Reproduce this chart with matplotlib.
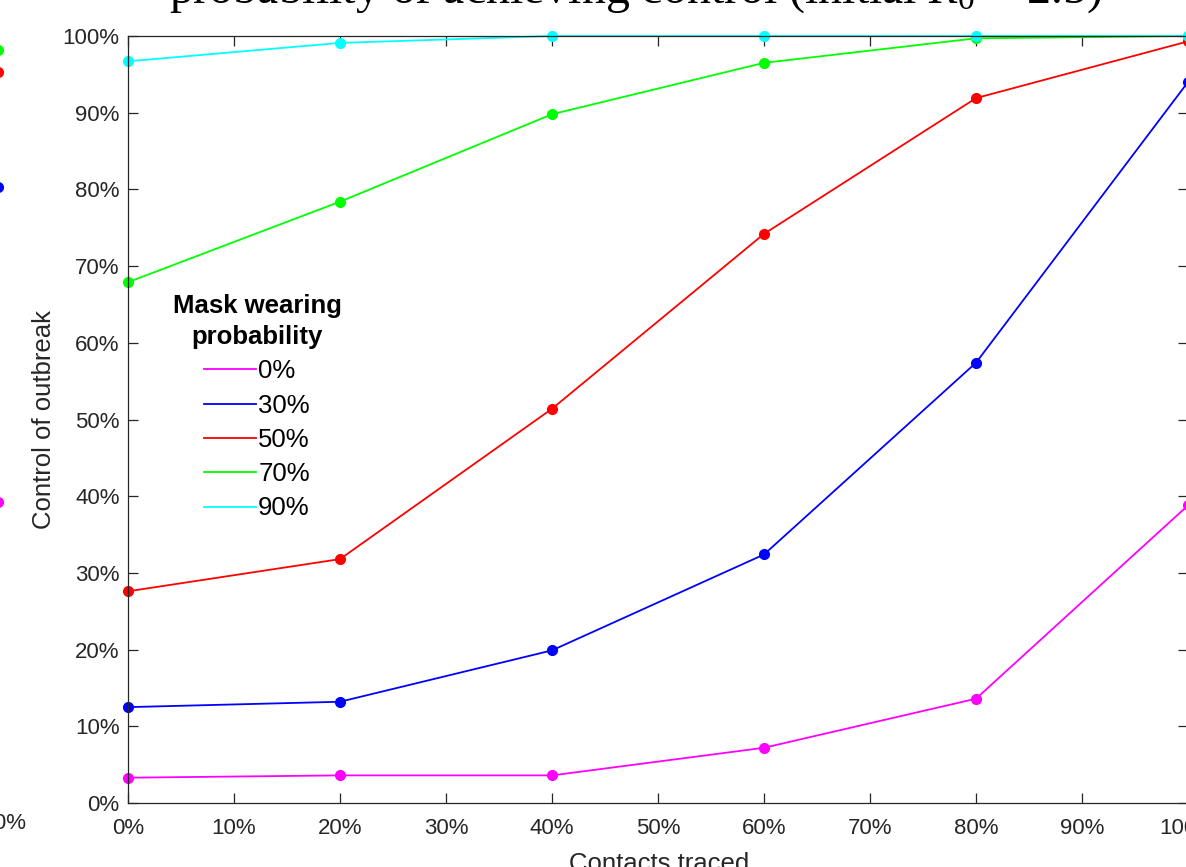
import matplotlib
matplotlib.use("Agg")
import matplotlib.pyplot as plt
from matplotlib.ticker import PercentFormatter

### DATA ###
contacts_traced = [0, 20, 40, 60, 80, 100]
mask_labels = ["0%", "30%", "50%", "70%", "90%"]
mask_colors = ["#ff00ff", "#0000ff", "#ff0000", "#00ff00", "#00ffff"]
control_mask0 = [3.3, 3.6, 3.6, 7.2, 13.6, 38.8]
control_mask30 = [12.5, 13.2, 19.9, 32.4, 57.4, 94.0]
control_mask50 = [27.6, 31.8, 51.4, 74.2, 91.9, 99.3]
control_mask70 = [67.9, 78.4, 89.8, 96.5, 99.7, 100.0]
control_mask90 = [96.7, 99.1, 100.0, 100.0, 100.0, 100.0]
all_series = [control_mask0, control_mask30, control_mask50, control_mask70, control_mask90]

# end points of the neighbouring panel that peek in at the left edge
neighbour_x = [100, 100, 100, 100]
neighbour_y = [38.9, 80.2, 95.3, 98.2]
neighbour_colors = ["#ff00ff", "#0000ff", "#ff0000", "#00ff00"]

ticks = list(range(0, 101, 10))

### FIGURE ###
W, H = 1186, 867
plt.rcParams["font.family"] = ["Liberation Sans", "DejaVu Sans"]
plt.rcParams["mathtext.fontset"] = "custom"
plt.rcParams["mathtext.rm"] = "Liberation Serif"
plt.rcParams["mathtext.it"] = "Liberation Serif:italic"

fig = plt.figure(figsize=(W / 100, H / 100), dpi=100)
grey = "#262626"

def px_box(left, top, right, bottom):
    return [left / W, 1 - bottom / H, (right - left) / W, (bottom - top) / H]

def style_axes(ax):
    ax.set_xlim(0, 100)
    ax.set_ylim(0, 100)
    ax.set_xticks(ticks)
    ax.set_yticks(ticks)
    ax.xaxis.set_major_formatter(PercentFormatter(decimals=0))
    ax.yaxis.set_major_formatter(PercentFormatter(decimals=0))
    ax.tick_params(direction="in", length=7, width=0.9, colors=grey,
                   labelsize=16, top=True, right=True)
    ax.tick_params(axis="x", pad=11)
    ax.tick_params(axis="y", pad=6)
    for s in ax.spines.values():
        s.set_color(grey)
        s.set_linewidth(0.9)

# neighbouring panel (mostly off the canvas)
ax0 = fig.add_axes(px_box(-1062, 36, -2, 798))
style_axes(ax0)
for xv, yv, c in zip(neighbour_x, neighbour_y, neighbour_colors):
    ax0.plot([xv], [yv], "o", color=c, markersize=7, clip_on=False)

# main panel
ax = fig.add_axes(px_box(128, 36, 1188, 803))
style_axes(ax)
for series, lab, col in zip(all_series, mask_labels, mask_colors):
    ax.plot(contacts_traced, series, "-o", color=col, linewidth=1.3,
            markersize=7, label=lab, clip_on=False)

ax.set_ylabel("Control of outbreak", fontsize=18.5, color=grey)
ax.yaxis.set_label_coords((56 - 128) / 1060, 0.5)

fig.text(659 / W, -4 / H, "Contacts traced", fontsize=18.5, color=grey,
         ha="center", va="baseline")

fig.text(635 / W, 1 - 3 / H, "probability of achieving control (initial $R_0$ = 2.5)",
         fontsize=34.5, family="Liberation Serif", ha="center", va="baseline")

leg = ax.legend(title="Mask wearing\nprobability", frameon=False, fontsize=18.5,
                loc="center", bbox_to_anchor=(257 / W, 1 - 407 / H),
                bbox_transform=fig.transFigure, handlelength=2.0,
                handletextpad=0.1, labelspacing=0.4,
                title_fontproperties={"weight": "bold", "size": 18.5})
leg.get_title().set_multialignment("center")
leg.get_title().set_linespacing(1.4)
for line in leg.get_lines():
    line.set_marker("")
    line.set_linewidth(1.3)

fig.savefig("out.png", dpi=100)
